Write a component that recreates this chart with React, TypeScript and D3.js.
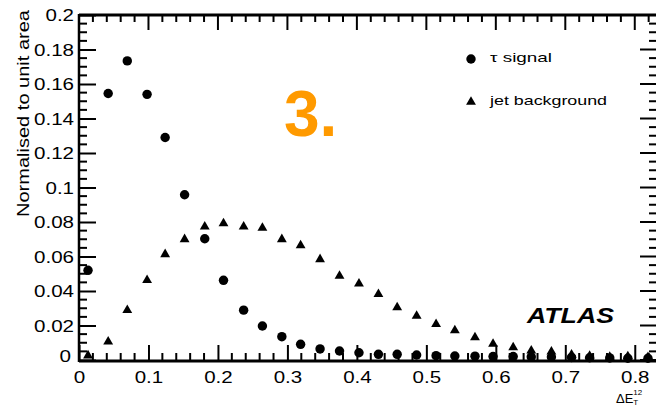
import React, { useEffect, useRef } from 'react';
import * as d3 from 'd3';

// bin centres of Delta E_T^12
const binCentres = [0.013, 0.042, 0.0695, 0.098, 0.124, 0.152, 0.181, 0.208, 0.237, 0.264,
  0.292, 0.319, 0.347, 0.375, 0.403, 0.431, 0.458, 0.486, 0.514, 0.541,
  0.570, 0.596, 0.625, 0.651, 0.680, 0.709, 0.735, 0.764, 0.790, 0.819];

const tauSignal = [0.052, 0.1545, 0.1734, 0.154, 0.129, 0.0958, 0.0703, 0.0462, 0.0289, 0.0197,
  0.0135, 0.0091, 0.0064, 0.0052, 0.0042, 0.0033, 0.0033, 0.0029, 0.0025, 0.0023,
  0.0022, 0.002, 0.002, 0.0018, 0.0017, 0.0015, 0.0013, 0.0012, 0.001, 0.001];

const jetBackground = [0.002, 0.010, 0.0283, 0.0457, 0.0607, 0.0694, 0.0767, 0.0786, 0.0767, 0.076,
  0.0694, 0.0659, 0.0578, 0.0482, 0.0437, 0.0376, 0.0299, 0.025, 0.0202, 0.0166,
  0.0125, 0.0087, 0.0067, 0.0048, 0.0043, 0.0025, 0.0018, 0.0012, 0.0015, 0.001];

const xTicks = [0, 0.1, 0.2, 0.3, 0.4, 0.5, 0.6, 0.7, 0.8];
const yTicks = [0, 0.02, 0.04, 0.06, 0.08, 0.1, 0.12, 0.14, 0.16, 0.18, 0.2];

const FONT = 'Liberation Sans, Arial, Helvetica, sans-serif';

const App = () => {
  const chartRef = useRef<SVGSVGElement>(null);

  useEffect(() => {
    const svg = d3.select(chartRef.current);
    svg.selectAll('*').remove();

    const x = d3.scaleLinear().domain([0, 0.832]).range([79, 657]);
    const y = d3.scaleLinear().domain([0, 0.2]).range([360, 15]);

    const left = x(0), right = x(0.832), top = y(0.2), bottom = y(0);

    // label width helper: digits are wide in the reference
    const labelWidth = (s: string) => s.split('').reduce((w, c) => w + (c === '.' ? 5.5 : 11.5), 0);

    // Y axis (left), ticks inside
    const yAxis = svg.append('g')
      .attr('transform', `translate(${left},0)`)
      .call(d3.axisLeft(y).tickValues(yTicks).tickSize(-17).tickFormat(d => String(d)));
    yAxis.select('.domain').remove();
    yAxis.selectAll('line').attr('stroke', '#000').attr('stroke-width', 2);
    yAxis.selectAll('text')
      .attr('x', -5)
      .attr('dy', '0.36em')
      .attr('font-family', FONT)
      .attr('font-size', 16)
      .attr('fill', '#000')
      .attr('textLength', (d: any) => labelWidth(String(d)))
      .attr('lengthAdjust', 'spacingAndGlyphs');
    // y "0" label sits a little left and above
    yAxis.selectAll('text').filter((d: any) => d === 0).attr('x', -8).attr('dy', '0.1em');

    // minor y ticks
    const yMinor = d3.range(0, 0.2001, 0.005).filter(v => Math.abs(Math.round(v / 0.02) * 0.02 - v) > 1e-6);
    svg.append('g').selectAll('line.ym')
      .data(yMinor)
      .enter()
      .append('line')
      .attr('x1', left).attr('x2', left + 8)
      .attr('y1', d => y(d)).attr('y2', d => y(d))
      .attr('stroke', '#000').attr('stroke-width', 2);
    // right side ticks (mirrored)
    svg.append('g').selectAll('line.yr')
      .data(yTicks.concat(yMinor))
      .enter()
      .append('line')
      .attr('x1', right).attr('x2', d => right - (yTicks.includes(d) ? 17 : 8))
      .attr('y1', d => y(d)).attr('y2', d => y(d))
      .attr('stroke', '#000').attr('stroke-width', 2);

    // X axis (bottom), ticks inside
    const xAxis = svg.append('g')
      .attr('transform', `translate(0,${bottom})`)
      .call(d3.axisBottom(x).tickValues(xTicks).tickSize(-15).tickFormat(d => String(d)));
    xAxis.select('.domain').remove();
    xAxis.selectAll('line').attr('stroke', '#000').attr('stroke-width', 2);
    xAxis.selectAll('text')
      .attr('y', 12)
      .attr('dy', '0.71em')
      .attr('font-family', FONT)
      .attr('font-size', 16)
      .attr('fill', '#000')
      .attr('textLength', (d: any) => labelWidth(String(d)))
      .attr('lengthAdjust', 'spacingAndGlyphs');

    const xMinor = d3.range(0, 0.8301, 0.02).filter(v => Math.abs(Math.round(v / 0.1) * 0.1 - v) > 1e-6);
    svg.append('g').selectAll('line.xm')
      .data(xMinor)
      .enter()
      .append('line')
      .attr('x1', d => x(d)).attr('x2', d => x(d))
      .attr('y1', bottom).attr('y2', bottom - 7)
      .attr('stroke', '#000').attr('stroke-width', 2);
    // top ticks (mirrored)
    svg.append('g').selectAll('line.xt')
      .data(xTicks.concat(xMinor))
      .enter()
      .append('line')
      .attr('x1', d => x(d)).attr('x2', d => x(d))
      .attr('y1', top).attr('y2', d => top + (xTicks.includes(d) ? 15 : 7))
      .attr('stroke', '#000').attr('stroke-width', 2);

    // frame
    svg.append('line').attr('x1', left).attr('x2', left).attr('y1', top - 1).attr('y2', bottom + 2)
      .attr('stroke', '#000').attr('stroke-width', 2.5);
    svg.append('line').attr('x1', left).attr('x2', right).attr('y1', top).attr('y2', top)
      .attr('stroke', '#000').attr('stroke-width', 3);
    svg.append('line').attr('x1', left).attr('x2', right).attr('y1', bottom + 1).attr('y2', bottom + 1)
      .attr('stroke', '#000').attr('stroke-width', 3);

    // Y axis label
    svg.append('text')
      .attr('transform', 'rotate(-90)')
      .attr('x', -10)
      .attr('y', 29)
      .attr('text-anchor', 'end')
      .attr('font-family', FONT)
      .attr('font-size', 16)
      .attr('textLength', 207)
      .attr('lengthAdjust', 'spacingAndGlyphs')
      .text('Normalised to unit area');

    // X axis label
    const xl = svg.append('text')
      .attr('x', 616)
      .attr('y', 403)
      .attr('font-family', FONT)
      .attr('font-size', 13);
    xl.append('tspan').text('ΔE');
    xl.append('tspan').attr('font-size', 8).attr('dy', 2).text('T');
    xl.append('tspan').attr('font-size', 8).attr('dx', -5).attr('dy', -10).text('12');

    // Data points
    const circle = d3.symbol().type(d3.symbolCircle).size(70);
    const triangle = d3.symbol().type(d3.symbolTriangle).size(42);

    svg.append('g').selectAll('path.sig')
      .data(tauSignal)
      .enter()
      .append('path')
      .attr('d', circle)
      .attr('transform', (d, i) => `translate(${x(binCentres[i])},${y(d)})`)
      .attr('fill', '#000');

    svg.append('g').selectAll('path.bkg')
      .data(jetBackground)
      .enter()
      .append('path')
      .attr('d', triangle)
      .attr('transform', (d, i) => `translate(${x(binCentres[i])},${y(d) - 1})`)
      .attr('fill', '#000');

    // Legend
    svg.append('path').attr('d', circle).attr('transform', 'translate(471,59)').attr('fill', '#000');
    svg.append('path').attr('d', triangle).attr('transform', 'translate(471,102)').attr('fill', '#000');
    svg.append('text')
      .attr('x', 490).attr('y', 62)
      .attr('font-family', FONT).attr('font-size', 13)
      .attr('textLength', 62).attr('lengthAdjust', 'spacingAndGlyphs')
      .text('τ signal');
    svg.append('text')
      .attr('x', 490).attr('y', 105)
      .attr('font-family', FONT).attr('font-size', 13)
      .attr('textLength', 117).attr('lengthAdjust', 'spacingAndGlyphs')
      .text('jet background');

    // ATLAS
    svg.append('text')
      .attr('x', 527).attr('y', 323)
      .attr('font-family', FONT).attr('font-size', 22)
      .attr('font-weight', 'bold').attr('font-style', 'italic')
      .attr('textLength', 87).attr('lengthAdjust', 'spacingAndGlyphs')
      .text('ATLAS');

    // slide number
    svg.append('text')
      .attr('x', 284).attr('y', 136)
      .attr('font-family', FONT).attr('font-size', 64)
      .attr('font-weight', 'bold')
      .attr('fill', '#FF9A00')
      .text('3.');
  }, []);

  return (
    <svg ref={chartRef} width={656} height={406}
      style={{ position: 'absolute', left: 0, top: 0, background: '#fff' }} />
  );
};

export default App;
